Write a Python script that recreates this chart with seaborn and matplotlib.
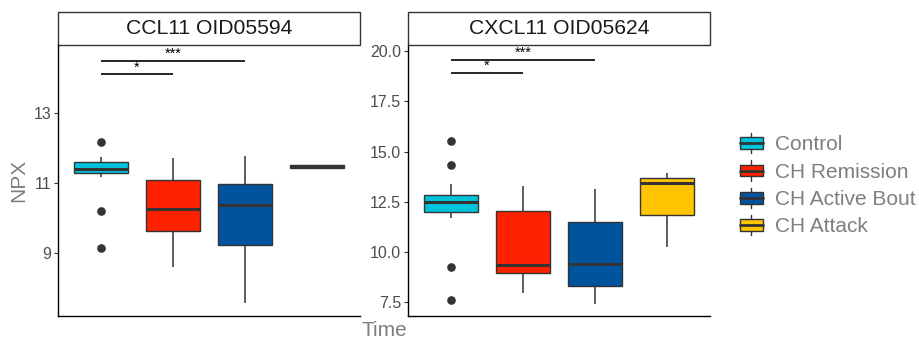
import numpy as np
import pandas as pd
import matplotlib
matplotlib.use("Agg")
from matplotlib import pyplot as plt
from matplotlib.patches import Rectangle, Patch
from matplotlib.lines import Line2D
from matplotlib.legend_handler import HandlerBase
import seaborn as sn

# groups and colours
groups = ["Control", "CH Remission", "CH Active Bout", "CH Attack"]
colors = ["#00C3DD", "#FF2100", "#00549E", "#FFC500"]

# NPX samples (quartiles / whiskers / outliers)
ccl11_control = [9.13, 10.2, 11.16, 11.28, 11.32, 11.36, 11.40, 11.45, 11.52, 11.59, 11.65, 11.75, 12.16]
ccl11_remission = [8.60, 9.20, 9.63, 9.90, 10.25, 10.70, 11.08, 11.40, 11.72]
ccl11_active = [7.56, 8.50, 9.24, 9.80, 10.37, 10.70, 10.97, 11.30, 11.77]
ccl11_attack = [11.40, 11.43, 11.47, 11.50, 11.50]

cxcl11_control = [7.63, 9.27, 11.67, 11.99, 12.15, 12.30, 12.47, 12.60, 12.75, 12.85, 13.41, 14.31, 15.51]
cxcl11_remission = [7.95, 8.50, 8.97, 9.10, 9.34, 10.80, 12.05, 12.60, 13.31]
cxcl11_active = [7.42, 7.90, 8.31, 8.90, 9.40, 10.50, 11.49, 12.30, 13.13]
cxcl11_attack = [10.23, 11.82, 13.43, 13.69, 13.93]

# significance brackets: (group a, group b, label, height)
ccl11_sig = [("Control", "CH Remission", "*", 14.10), ("Control", "CH Active Bout", "***", 14.49)]
cxcl11_sig = [("Control", "CH Remission", "*", 18.90), ("Control", "CH Active Bout", "***", 19.55)]

ccl11_ticks = [9, 11, 13]
cxcl11_ticks = [7.5, 10.0, 12.5, 15.0, 17.5, 20.0]


def make_df(samples):
    rows = []
    for g, vals in zip(groups, samples):
        for v in vals:
            rows.append({"group": g, "NPX": v})
    return pd.DataFrame(rows)


class BoxKey(HandlerBase):
    # ggplot-ish boxplot legend key
    def create_artists(self, legend, orig_handle, xdescent, ydescent, width, height, fontsize, trans):
        x0, y0 = -xdescent, -ydescent
        lo, hi = y0 + 0.1 * height, y0 + 0.9 * height
        xc = x0 + width / 2
        arts = [
            Line2D([xc, xc], [y0 - 0.2 * height, lo], color="#333333", lw=1.0, transform=trans),
            Line2D([xc, xc], [hi, y0 + 1.2 * height], color="#333333", lw=1.0, transform=trans),
            Rectangle((x0, lo), width, hi - lo, facecolor=orig_handle.get_facecolor(),
                      edgecolor="#333333", lw=1.0, transform=trans),
            Line2D([x0, x0 + width], [y0 + height / 2] * 2, color="#333333", lw=2.0, transform=trans),
        ]
        return arts


def panel(ax, df, title, ylim, ticks, fmt, sig):
    sn.boxplot(data=df, x="group", y="NPX", hue="group", order=groups, hue_order=groups,
               palette=colors, saturation=1, width=0.75, linecolor="#333333", linewidth=1.0,
               legend=False, showcaps=False, whis=1.5, ax=ax,
               medianprops={"linewidth": 2.2, "color": "#333333"},
               whiskerprops={"linewidth": 1.1},
               flierprops={"marker": "o", "markerfacecolor": "#333333", "markeredgecolor": "#333333",
                           "markersize": 5.2})
    ax.set_xlim(-0.6, 3.6)
    ax.set_ylim(*ylim)
    ax.set_yticks(ticks)
    ax.set_yticklabels([fmt.format(t) for t in ticks])
    ax.set_xticks([])
    ax.set_xlabel("")
    ax.set_ylabel("")
    for s in ["top", "right"]:
        ax.spines[s].set_visible(False)
    for s in ["left", "bottom"]:
        ax.spines[s].set_color("black")
        ax.spines[s].set_linewidth(1.0)
    ax.tick_params(axis="y", length=3, width=0.8, color="#333333", labelcolor="#4D4D4D", labelsize=11.5, pad=2)

    for a, b, lab, h in sig:
        xa, xb = groups.index(a), groups.index(b)
        ax.plot([xa, xb], [h, h], color="black", lw=1.2, solid_capstyle="butt", clip_on=False)
        ax.text((xa + xb) / 2, h, lab, ha="center", va="bottom", fontsize=10.5, color="black",
                linespacing=0.8)

    # facet strip
    sh = 33 / 271
    ax.add_patch(Rectangle((0, 1), 1, sh, transform=ax.transAxes, facecolor="white",
                           edgecolor="#333333", lw=1.0, clip_on=False))
    ax.text(0.5, 1 + sh / 2, title, transform=ax.transAxes, ha="center", va="center",
            fontsize=15.2, color="#1A1A1A")


sn.set_theme(style="ticks")
plt.rcParams["font.family"] = ["Liberation Sans", "DejaVu Sans"]

fig = plt.figure(figsize=(9.19, 3.38), dpi=100)
ax1 = fig.add_axes([58 / 919, 22 / 338, 302 / 919, 271 / 338])
ax2 = fig.add_axes([408 / 919, 22 / 338, 302 / 919, 271 / 338])

panel(ax1, make_df([ccl11_control, ccl11_remission, ccl11_active, ccl11_attack]),
      "CCL11 OID05594", (7.2, 14.94), ccl11_ticks, "{:g}", ccl11_sig)
panel(ax2, make_df([cxcl11_control, cxcl11_remission, cxcl11_active, cxcl11_attack]),
      "CXCL11 OID05624", (6.82, 20.3), cxcl11_ticks, "{:.1f}", cxcl11_sig)

ax1.set_ylabel("NPX", fontsize=15, color="#7F7F7F", labelpad=4)
fig.text(384 / 919, 1 - 321 / 338, "Time", ha="center", va="top", fontsize=15, color="#7F7F7F")

handles = [Patch(facecolor=c) for c in colors]
fig.legend(handles, groups, handler_map={Patch: BoxKey()}, loc="center left",
           bbox_to_anchor=(740 / 919, 1 - 186 / 338), frameon=False, fontsize=15,
           labelcolor="#7F7F7F", handlelength=1.1, handleheight=0.7, handletextpad=0.6,
           labelspacing=0.4, borderpad=0, borderaxespad=0)

plt.savefig("out.png", dpi=100)
